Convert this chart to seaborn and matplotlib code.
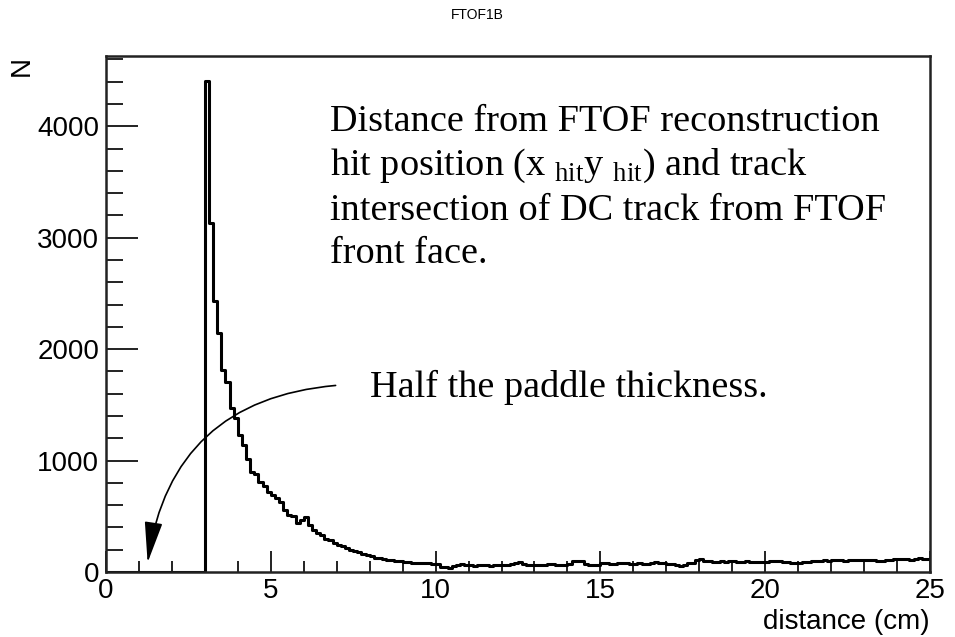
import numpy as np
import pandas as pd
import seaborn as sns
from matplotlib import pyplot as plt
from matplotlib.patches import FancyArrowPatch
from matplotlib.ticker import MultipleLocator

# histogram: 200 bins of 0.125 cm from 0 to 25, empty below 3 cm
bin_width = 0.125
x_min, x_max = 0.0, 25.0
n_empty = 24
peak_counts = [
    4408, 3136, 2428, 2141, 1810, 1703, 1470, 1380,
    1228, 1138, 1010, 900, 880, 810, 770, 720,
    690, 660, 630, 560, 510, 500, 440, 470,
    490, 420, 380, 350, 330, 300, 290, 260,
    240, 230, 215, 200, 185, 175, 165, 150,
    140, 130, 125, 115, 108, 104, 100, 96,
    92, 88, 84, 82, 80, 78, 78, 76,
]
tail_counts = [
    76, 48, 42, 40, 52, 66, 68, 66,
    60, 58, 62, 65, 60, 58, 63, 62,
    60, 65, 70, 85, 88, 70, 60, 62,
    65, 62, 60, 68, 70, 65, 62, 66,
    70, 95, 100, 98, 75, 62, 60, 64,
    82, 78, 70, 72, 80, 85, 78, 74,
    76, 80, 72, 75, 82, 86, 80, 78,
    74, 70, 62, 58, 66, 80, 78, 110,
    118, 100, 95, 90, 92, 96, 94, 95,
    98, 92, 90, 95, 94, 93, 90, 88,
    92, 98, 100, 95, 90, 88, 85, 80,
    82, 86, 92, 98, 100, 102, 104, 100,
    104, 108, 106, 100, 106, 110, 108, 104,
    108, 112, 110, 100, 96, 104, 112, 118,
    120, 115, 118, 112, 120, 124, 116, 114,
]
counts = [0] * n_empty + peak_counts + tail_counts

edges = np.arange(x_min, x_max + bin_width / 2, bin_width)
hist_df = pd.DataFrame({"distance": edges[:-1] + bin_width / 2,
                        "N": counts})

sns.set_style("white")
plt.rcParams["font.family"] = ["Liberation Sans", "DejaVu Sans"]
plt.rcParams["mathtext.fontset"] = "custom"
plt.rcParams["mathtext.rm"] = "Liberation Serif"
plt.rcParams["text.color"] = "black"
plt.rcParams["xtick.color"] = "black"
plt.rcParams["ytick.color"] = "black"

fig = plt.figure(figsize=(9.55, 6.37), dpi=100)
ax = fig.add_axes([106 / 955, 1 - 572 / 637, 824 / 955, 516 / 637])

sns.histplot(data=hist_df, x="distance", weights="N", bins=list(edges),
             element="step", fill=False, color="black", linewidth=2.2,
             ax=ax)

ax.set_xlim(x_min, x_max)
ax.set_ylim(0, 4630)
ax.set_xlabel("")
ax.set_ylabel("")

for side in ax.spines.values():
    side.set_linewidth(1.8)
    side.set_color("#222222")

ax.xaxis.set_major_locator(MultipleLocator(5))
ax.xaxis.set_minor_locator(MultipleLocator(1))
ax.yaxis.set_major_locator(MultipleLocator(1000))
ax.yaxis.set_minor_locator(MultipleLocator(200))
ax.tick_params(which="both", direction="in", top=False, right=False,
               bottom=True, left=True, color="#222222", width=1.4,
               labelsize=20, labelcolor="black")
ax.tick_params(axis="x", which="major", length=15, pad=4)
ax.tick_params(axis="x", which="minor", length=8)
ax.tick_params(axis="y", which="major", length=23, pad=5)
ax.tick_params(axis="y", which="minor", length=12)

fig.text(0.5, 1 - 15 / 637, "FTOF1B", ha="center", va="center", fontsize=10)
fig.text(22 / 955, 1 - 66 / 637, "N", ha="center", va="center",
         rotation=90, fontsize=20)
fig.text(930 / 955, 1 - 622 / 637, "distance (cm)", ha="right",
         va="center", fontsize=20)

serif = "Liberation Serif"
note_lines = [
    "Distance from FTOF reconstruction",
    r"hit position (x $_{\rm hit}$y $_{\rm hit}$) and track",
    "intersection of DC track from FTOF",
    "front face.",
]
note_baselines = [131, 175, 220, 263]
for line, base in zip(note_lines, note_baselines):
    fig.text(330 / 955, 1 - base / 637, line, ha="left", va="baseline",
             fontsize=27.5, family=serif)

fig.text(370 / 955, 1 - 397 / 637, "Half the paddle thickness.",
         ha="left", va="baseline", fontsize=27.5, family=serif)

arrow = FancyArrowPatch((7.05, 1676), (1.25, 60), transform=ax.transData,
                        connectionstyle="arc3,rad=0.4",
                        arrowstyle="-|>,head_length=1.6,head_width=0.35",
                        mutation_scale=16, color="black", linewidth=1.2)
ax.add_patch(arrow)

fig.savefig("out.png", dpi=100)
